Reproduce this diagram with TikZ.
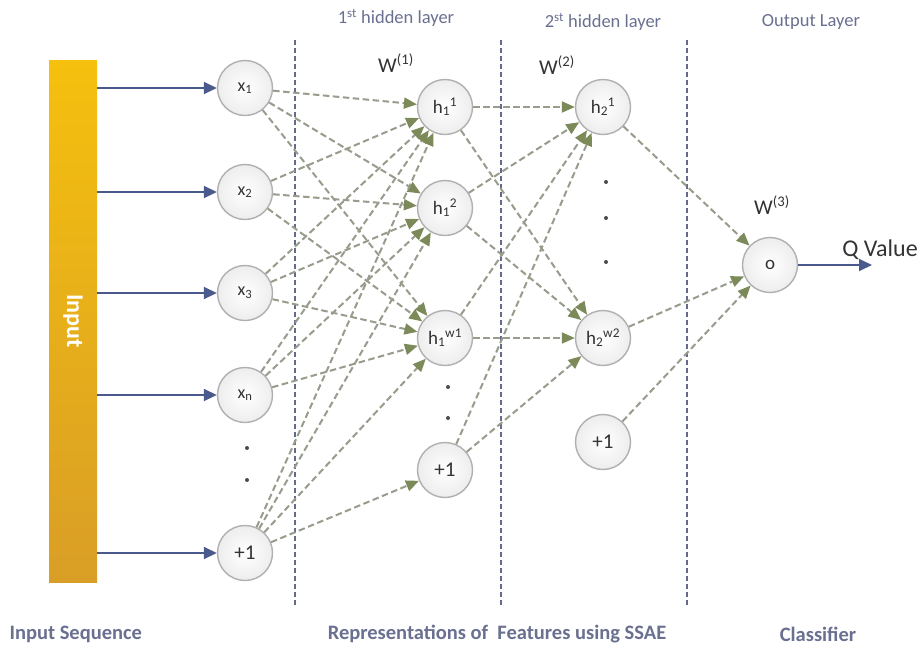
\documentclass[tikz,border=0pt]{standalone}
\usepackage{fontspec}
\setmainfont{Carlito}
\usetikzlibrary{arrows.meta}
\definecolor{hdr}{HTML}{6A7090}
\definecolor{sep}{HTML}{646A8C}
\definecolor{conn}{HTML}{979C8C}
\definecolor{tipg}{HTML}{7B8A58}
\definecolor{blu}{HTML}{4A5A8C}
\definecolor{ring}{HTML}{B0B0B0}
\definecolor{barT}{HTML}{F5C00E}
\definecolor{barB}{HTML}{D99E26}
\tikzset{
  neuron/.style={circle, draw=ring, line width=1.4pt, inner color=white, outer color=black!7, minimum size=55pt, inner sep=0pt, font=\fontsize{18}{18}\selectfont, text=black!80},
  hneuron/.style={neuron, font=\fontsize{19}{19}\selectfont},
  bneuron/.style={neuron, font=\fontsize{21}{21}\selectfont},
  conn/.style={draw=conn, line width=2pt, dash pattern=on 6.5pt off 3.5pt, -{Triangle[length=13pt,width=11pt,color=tipg,fill=tipg]}},
  inarrow/.style={draw=blu, line width=1.8pt, -{Triangle[length=13pt,width=12pt]}},
  sepline/.style={draw=sep, line width=1.8pt, dash pattern=on 5pt off 3pt},
  hdrtext/.style={text=hdr, font=\fontsize{18.5}{18.5}\selectfont},
  bottext/.style={text=hdr, font=\fontsize{20.5}{20.5}\selectfont\bfseries},
  wtext/.style={text=black!80, font=\fontsize{21}{21}\selectfont},
  dot/.style={circle, fill=black!70, inner sep=0pt, minimum size=4pt}
}
\begin{document}
\begin{tikzpicture}[x=1pt,y=-1pt]
\useasboundingbox (0,0) rectangle (923,649);
\fill[white] (0,0) rectangle (923,649);
% input bar
\shade[top color=barT, bottom color=barB] (49,60) rectangle (97,582);
\node[rotate=-90, text=white, font=\fontsize{24}{24}\selectfont\bfseries] (inlbl) at (73,321) {Input};
% separators
\coordinate (s1t) at (295,40); \coordinate (s1b) at (295,606);
\coordinate (s2t) at (501,40); \coordinate (s2b) at (501,606);
\coordinate (s3t) at (687,40); \coordinate (s3b) at (687,606);
\draw[sepline] (s1t) -- (s1b);
\draw[sepline] (s2t) -- (s2b);
\draw[sepline] (s3t) -- (s3b);
% input nodes
\node[neuron] (i1) at (245,88) {x\textsubscript{1}};
\node[neuron] (i2) at (245,192) {x\textsubscript{2}};
\node[neuron] (i3) at (245,293) {x\textsubscript{3}};
\node[neuron] (in) at (245,395) {x\textsubscript{n}};
\node[dot] (id1) at (247,448) {};
\node[dot] (id2) at (247,480) {};
\node[bneuron] (ib) at (245,553) {+1};
% hidden 1
\node[hneuron] (a1) at (445,107) {h\textsubscript{1}\textsuperscript{1}};
\node[hneuron] (a2) at (445,208) {h\textsubscript{1}\textsuperscript{2}};
\node[hneuron] (aw) at (445,338) {h\textsubscript{1}\textsuperscript{w1}};
\node[dot] (ad1) at (448,387) {};
\node[dot] (ad2) at (448,418) {};
\node[bneuron] (ab) at (445,470) {+1};
% hidden 2
\node[hneuron] (b1) at (603,107) {h\textsubscript{2}\textsuperscript{1}};
\node[dot] (bd1) at (606,182) {};
\node[dot] (bd2) at (606,218) {};
\node[dot] (bd3) at (606,262) {};
\node[hneuron] (bw) at (603,338) {h\textsubscript{2}\textsuperscript{w2}};
\node[bneuron] (bb) at (603,442) {+1};
% output
\node[hneuron] (o) at (770,265) {o};
\coordinate (qend) at (872,265);
\node[font=\fontsize{24}{24}\selectfont, text=black!80] (q) at (880,250) {Q Value};
% input arrows
\coordinate (si1) at (97,88);
\coordinate (si2) at (97,192);
\coordinate (si3) at (97,293);
\coordinate (sin) at (97,395);
\coordinate (sib) at (97,553);
\foreach \n in {i1,i2,i3,in,ib} {
  \draw[inarrow] (s\n) -- (\n);
}
\draw[inarrow] (o) -- (qend);
% layer 1 connections
\foreach \s in {i1,i2,i3,in,ib} {
  \foreach \t in {a1,a2,aw} {
    \draw[conn] (\s) -- (\t);
  }
}
\draw[conn] (ib) -- (ab);
% layer 2 connections
\foreach \s in {a1,a2,aw,ab} {
  \foreach \t in {b1,bw} {
    \draw[conn] (\s) -- (\t);
  }
}
% output connections
\foreach \s in {b1,bw,bb} {
  \draw[conn] (\s) -- (o);
}
% labels
\node[hdrtext] (h1l) at (396,18) {1\textsuperscript{st} hidden layer};
\node[hdrtext] (h2l) at (603,22) {2\textsuperscript{st} hidden layer};
\node[hdrtext] (ol) at (811,22) {Output Layer};
\node[wtext] (w1) at (396,63) {W\textsuperscript{(1)}};
\node[wtext] (w2) at (557,65) {W\textsuperscript{(2)}};
\node[wtext] (w3) at (772,205) {W\textsuperscript{(3)}};
\node[bottext, anchor=west] (bl1) at (6,634) {Input Sequence};
\node[bottext] (bl2) at (497,634) {Representations of\ \ Features using SSAE};
\node[bottext] (bl3) at (818,634) {Classifier};
\end{tikzpicture}
\end{document}
